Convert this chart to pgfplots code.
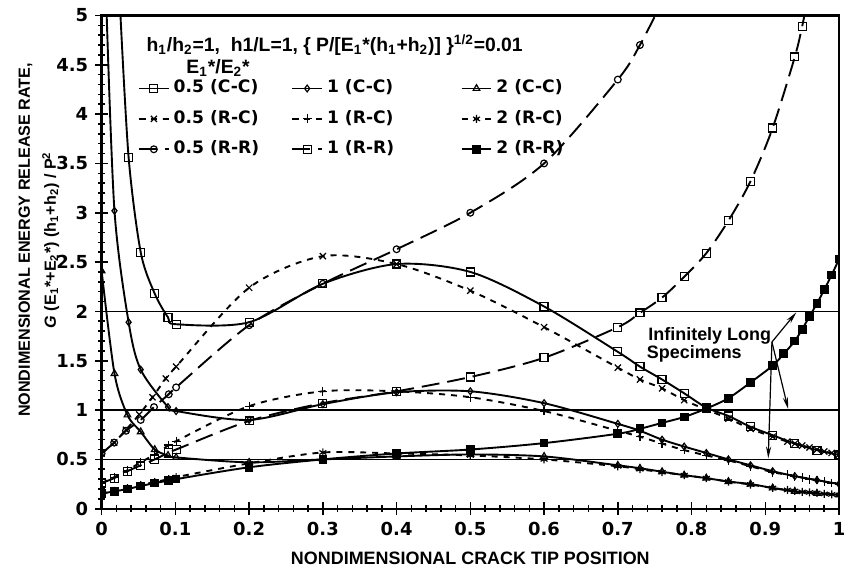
\documentclass[border=0pt]{standalone}
\usepackage{fontspec}
\setmainfont{Liberation Sans}
\newfontfamily\dv{DejaVu Sans}
\usepackage{pgfplots}
\pgfplotsset{compat=1.18}
\usetikzlibrary{arrows.meta}

\pgfplotsset{
  crv/.style={smooth, tension=0.5, line width=0.95pt, black},
  mk/.style={mark options={solid, fill=white, line width=0.6pt}},
  every axis plot/.append style={
    legend image code/.code={\draw[mark repeat=2,mark phase=2] plot coordinates {(0pt,0pt)(7.5pt,0pt)(15pt,0pt)};}
  },
}
\newcommand{\ca}[1]{\makebox[57pt][l]{#1}}
\newcommand{\cb}[1]{\makebox[65pt][l]{#1}}

\begin{document}
\begin{tikzpicture}[font=\bfseries]
\begin{axis}[
  scale only axis, width=370pt, height=247.5pt,
  at={(0,0)}, anchor=south west,
  xmin=0, xmax=1, ymin=0, ymax=5,
  xtick={0,0.1,0.2,0.3,0.4,0.5,0.6,0.7,0.8,0.9,1},
  xticklabels={0,0.1,0.2,0.3,0.4,0.5,0.6,0.7,0.8,0.9,1},
  ytick={0,0.5,1,1.5,2,2.5,3,3.5,4,4.5,5},
  yticklabels={0,0.5,1,1.5,2,2.5,3,3.5,4,4.5,5},
  minor x tick num=4, minor y tick num=4,
  tick align=center, tick pos=left,
  major tick length=6.5pt, minor tick length=3.5pt,
  every tick/.style={black, line width=0.8pt},
  axis line style={line width=1.2pt},
  tick label style={font=\dv\bfseries\fontsize{9}{10}\selectfont},
  clip marker paths=true,
  xlabel={NONDIMENSIONAL CRACK TIP POSITION},
  every axis x label/.style={at={(rel axis cs:0.5,-0.1)}, anchor=center, font=\bfseries\fontsize{9}{10}\selectfont},
  ylabel={NONDIMENSIONAL ENERGY RELEASE RATE,\\\textit{G} (E\textsubscript{1}*+E\textsubscript{2}*) (h\textsubscript{1}+h\textsubscript{2}) / P\textsuperscript{2}},
  every axis y label/.style={at={(rel axis cs:-0.0851,0.545)}, rotate=90, anchor=center, align=center, font=\bfseries\fontsize{8.1}{13}\selectfont},
  legend columns=3,
  legend cell align=left,
  legend style={draw=none, fill=none, at={(axis cs:0.0487,4.39)}, anchor=north west,
    inner sep=0pt, /tikz/column sep=0pt, /tikz/row sep=2.75pt,
    nodes={inner sep=2pt, text height=6.5pt, text depth=2pt, font=\dv\bfseries\fontsize{8.6}{10}\selectfont}},
]
% reference lines (infinitely long specimens)
\draw[line width=0.7pt] (axis cs:0,0.5) -- (axis cs:1,0.5);
\draw[line width=0.7pt] (axis cs:0,1) -- (axis cs:1,1);
\draw[line width=0.7pt] (axis cs:0,2) -- (axis cs:1,2);

% 0.5 (C-C)
\addplot[crv, mk, mark=square, mark size=2pt] coordinates {
(0.025,5.08)(0.0366,3.56)(0.053,2.60)(0.072,2.18)(0.09,1.94)(0.101,1.87)(0.2,1.89)(0.3,2.28)(0.4,2.48)(0.5,2.40)(0.6,2.05)(0.7,1.59)(0.73,1.44)(0.76,1.31)(0.79,1.17)(0.82,1.025)(0.85,0.94)(0.88,0.83)(0.91,0.745)(0.94,0.66)(0.97,0.594)(1.0,0.545)};
\addlegendentry{\ca{0.5 (C-C)}}
% 1 (C-C)
\addplot[crv, mk, mark=diamond, mark size=1.7pt] coordinates {
(0.0065,5.08)(0.0174,3.02)(0.0366,1.89)(0.053,1.41)(0.09,1.03)(0.101,0.99)(0.2,0.90)(0.3,1.06)(0.4,1.18)(0.5,1.19)(0.6,1.07)(0.7,0.86)(0.73,0.79)(0.76,0.70)(0.79,0.63)(0.82,0.565)(0.85,0.50)(0.88,0.44)(0.91,0.38)(0.94,0.33)(0.97,0.29)(1.0,0.25)};
\addlegendentry{\cb{1 (C-C)}}
% 2 (C-C)
\addplot[crv, mk, mark=triangle, mark size=1.9pt] coordinates {
(0,2.41)(0.0174,1.37)(0.035,0.95)(0.053,0.78)(0.072,0.60)(0.09,0.54)(0.101,0.52)(0.2,0.47)(0.3,0.50)(0.4,0.53)(0.5,0.55)(0.6,0.53)(0.7,0.44)(0.73,0.41)(0.76,0.375)(0.79,0.34)(0.82,0.31)(0.85,0.275)(0.88,0.25)(0.91,0.21)(0.94,0.175)(0.97,0.155)(1.0,0.14)};
\addlegendentry{2 (C-C)}
% 0.5 (R-C)
\addplot[crv, mk, dash pattern=on 3pt off 3pt, mark=x, mark size=2.2pt] coordinates {
(0,0.56)(0.017,0.67)(0.033,0.80)(0.051,0.955)(0.069,1.13)(0.087,1.32)(0.101,1.44)(0.2,2.24)(0.3,2.56)(0.4,2.48)(0.5,2.21)(0.6,1.84)(0.7,1.43)(0.73,1.31)(0.76,1.22)(0.79,1.10)(0.82,1.005)(0.85,0.914)(0.88,0.81)(0.91,0.73)(0.93,0.68)(0.94,0.66)(0.95,0.64)(0.96,0.62)(0.97,0.60)(0.98,0.58)(0.99,0.565)(1.0,0.55)};
\addlegendentry{\ca{0.5 (R-C)}}
% 1 (R-C)
\addplot[crv, mk, dash pattern=on 3pt off 3pt, mark=+, mark size=2.2pt] coordinates {
(0,0.26)(0.017,0.32)(0.035,0.39)(0.053,0.47)(0.072,0.55)(0.091,0.645)(0.101,0.685)(0.2,1.04)(0.3,1.19)(0.4,1.19)(0.5,1.13)(0.6,0.99)(0.7,0.79)(0.73,0.73)(0.76,0.66)(0.79,0.594)(0.82,0.54)(0.85,0.49)(0.88,0.43)(0.91,0.37)(0.93,0.345)(0.94,0.33)(0.95,0.315)(0.96,0.30)(0.97,0.29)(0.98,0.275)(0.99,0.26)(1.0,0.25)};
\addlegendentry{\cb{1 (R-C)}}
% 2 (R-C)
\addplot[crv, mk, dash pattern=on 3pt off 3pt, mark=asterisk, mark size=2pt] coordinates {
(0,0.15)(0.017,0.18)(0.035,0.21)(0.053,0.24)(0.072,0.27)(0.091,0.30)(0.101,0.32)(0.2,0.46)(0.3,0.57)(0.4,0.56)(0.5,0.54)(0.6,0.50)(0.7,0.43)(0.73,0.40)(0.76,0.37)(0.79,0.34)(0.82,0.31)(0.85,0.275)(0.88,0.245)(0.91,0.21)(0.93,0.19)(0.94,0.18)(0.95,0.17)(0.96,0.165)(0.97,0.16)(0.98,0.15)(0.99,0.145)(1.0,0.14)};
\addlegendentry{2 (R-C)}
% 0.5 (R-R)
\addplot[crv, mk, dash pattern=on 9pt off 4pt, mark=o, mark size=1.7pt] coordinates {
(0,0.56)(0.017,0.67)(0.033,0.79)(0.053,0.90)(0.071,1.03)(0.091,1.16)(0.101,1.23)(0.2,1.86)(0.3,2.28)(0.4,2.63)(0.5,3.00)(0.6,3.50)(0.7,4.35)(0.73,4.70)(0.756,5.08)};
\addlegendentry{\ca{0.5 (R-R)}}
% 1 (R-R)
\addplot[crv, mk, dash pattern=on 9pt off 4pt, mark=square, mark size=2pt] coordinates {
(0,0.26)(0.017,0.31)(0.035,0.38)(0.053,0.44)(0.072,0.50)(0.091,0.57)(0.101,0.60)(0.2,0.89)(0.3,1.07)(0.4,1.19)(0.5,1.335)(0.6,1.53)(0.7,1.84)(0.73,1.985)(0.76,2.14)(0.79,2.35)(0.82,2.59)(0.85,2.92)(0.88,3.32)(0.91,3.86)(0.94,4.58)(0.95,4.89)(0.955,5.08)};
\addlegendentry{\cb{1 (R-R)}}
% 2 (R-R)
\addplot[crv, mark=square*, mark size=1.7pt, mark options={solid, fill=black}] coordinates {
(0,0.155)(0.017,0.175)(0.035,0.20)(0.053,0.23)(0.072,0.26)(0.091,0.285)(0.101,0.30)(0.2,0.42)(0.3,0.50)(0.4,0.56)(0.5,0.60)(0.6,0.665)(0.7,0.76)(0.73,0.81)(0.76,0.87)(0.79,0.93)(0.82,1.015)(0.85,1.12)(0.88,1.28)(0.91,1.45)(0.925,1.57)(0.94,1.70)(0.95,1.82)(0.96,1.95)(0.97,2.08)(0.98,2.22)(0.99,2.37)(1.0,2.53)};
\addlegendentry{2 (R-R)}

% annotations
\node[anchor=west, font=\bfseries\fontsize{9.7}{10}\selectfont] at (axis cs:0.0514,4.70)
  {h\textsubscript{1}/h\textsubscript{2}=1,\ \ h1/L=1, \{ P/[E\textsubscript{1}*(h\textsubscript{1}+h\textsubscript{2})] \}\textsuperscript{1/2}=0.01};
\node[anchor=west, font=\bfseries\fontsize{9.7}{10}\selectfont] at (axis cs:0.1055,4.47)
  {E\textsubscript{1}*/E\textsubscript{2}*};
\node[anchor=base west, inner sep=0pt, font=\bfseries\fontsize{9}{10}\selectfont] at (axis cs:0.741,1.71) {Infinitely Long};
\node[anchor=base west, inner sep=0pt, font=\bfseries\fontsize{9}{10}\selectfont] at (axis cs:0.739,1.52) {Specimens};
\draw[-{Stealth[length=6pt,width=2.6pt]}, line width=0.6pt] (axis cs:0.909,1.69) -- (axis cs:0.942,1.99);
\draw[-{Stealth[length=6pt,width=2.6pt]}, line width=0.6pt] (axis cs:0.909,1.69) -- (axis cs:0.931,1.01);
\draw[-{Stealth[length=6pt,width=2.6pt]}, line width=0.6pt] (axis cs:0.909,1.69) -- (axis cs:0.904,0.51);
\end{axis}
\pgfresetboundingbox
\path (-51pt,-37.75pt) rectangle (373.5pt,255.25pt);
\end{tikzpicture}
\end{document}
